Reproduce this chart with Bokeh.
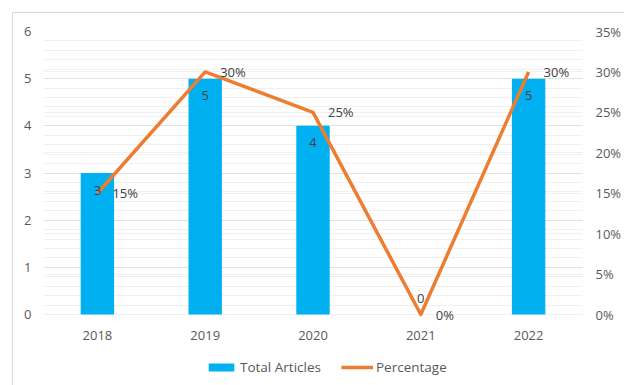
from bokeh.plotting import figure
from bokeh.models import (ColumnDataSource, Range1d, LinearAxis, FixedTicker,
                          PrintfTickFormatter, Legend, LegendItem, Grid, FactorRange,
                          LabelSet)
from bokeh.core.properties import value
from bokeh.layouts import column
from bokeh.embed import file_html
from bokeh.resources import INLINE

years = ["2018", "2019", "2020", "2021", "2022"]
total_articles = [3, 5, 4, 0, 5]
percentages = [15, 30, 25, 0, 30]
left_ticks = [0, 1, 2, 3, 4, 5, 6]
right_ticks = [0, 5, 10, 15, 20, 25, 30, 35]

FONT = "Open Sans"
TXT = "#595959"
LBL = "#404040"
BLUE = "#00B0F0"
ORANGE = "#ED7D31"
GRID = "#e2e2e2"
MINOR = "#f0f0f0"

# frame extends a few pixels below the zero line so that labels at zero are not clipped
LEFT_MAX = 6
RIGHT_MAX = 35
PAD = 8 / 283  # fraction of the 0..max span

src = ColumnDataSource(dict(
    x=years,
    total=total_articles,
    total_lbl=[str(v) for v in total_articles],
    total_off=[-17 if v > 0 else 16 for v in total_articles],
    pct=percentages,
    pct_lbl=[f"{v}%" for v in percentages],
))

p = figure(x_range=FactorRange(*years, range_padding=0),
           y_range=Range1d(-LEFT_MAX * PAD, LEFT_MAX),
           width=624, height=352, output_backend="svg", toolbar_location=None,
           min_border_left=43, min_border_right=39, min_border_top=31, min_border_bottom=30,
           outline_line_color=None, border_fill_color=None)
p.styles = {
    "background": "linear-gradient(#d9d9d9,#d9d9d9) 12px 12px / 100% 1px no-repeat, "
                  "linear-gradient(#d9d9d9,#d9d9d9) 12px 12px / 1px 100% no-repeat, #ffffff"
}
p.extra_y_ranges = {"pct": Range1d(-RIGHT_MAX * PAD, RIGHT_MAX)}

# grids
p.xgrid.grid_line_color = None
p.ygrid.ticker = FixedTicker(ticks=left_ticks, minor_ticks=[i / 5 for i in range(31)])
p.ygrid.grid_line_color = GRID
p.ygrid.minor_grid_line_color = MINOR
rgrid = Grid(dimension=1, y_range_name="pct", ticker=FixedTicker(ticks=right_ticks),
             grid_line_color=MINOR)
p.add_layout(rgrid)

bars = p.vbar(x="x", top="total", width=0.31, source=src, fill_color=BLUE, line_color=None)
line = p.line(x="x", y="pct", source=src, y_range_name="pct", line_color=ORANGE,
              line_width=3.5, line_join="round")

p.add_layout(LabelSet(x="x", y="total", text="total_lbl", source=src, y_offset="total_off",
                      text_align="center", text_baseline="middle", text_font=value(FONT),
                      text_font_size="13px", text_color=LBL))
p.add_layout(LabelSet(x="x", y="pct", text="pct_lbl", source=src, y_range_name="pct",
                      x_offset=15, y_offset=0, text_align="left", text_baseline="middle",
                      text_font=value(FONT), text_font_size="13px", text_color=LBL))

# axes
p.yaxis.ticker = FixedTicker(ticks=left_ticks)
raxis = LinearAxis(y_range_name="pct", ticker=FixedTicker(ticks=right_ticks),
                   formatter=PrintfTickFormatter(format="%d%%"))
p.add_layout(raxis, "right")
for ax in [p.yaxis[0], raxis, p.xaxis[0]]:
    ax.axis_line_color = None
    ax.major_tick_line_color = None
    ax.minor_tick_line_color = None
    ax.major_tick_in = 0
    ax.major_tick_out = 0
    ax.minor_tick_in = 0
    ax.minor_tick_out = 0
    ax.major_label_text_font = FONT
    ax.major_label_text_font_size = "13px"
    ax.major_label_text_color = TXT
p.yaxis[0].major_label_standoff = 12
raxis.major_label_standoff = 13
p.xaxis.major_label_standoff = 8

# legend strip below the chart (swatch renderers sit outside the visible range)
lg = figure(x_range=Range1d(0, 1), y_range=Range1d(0, 1), width=624, height=33,
            output_backend="svg", toolbar_location=None,
            x_axis_location=None, y_axis_location=None,
            min_border_left=0, min_border_right=0, min_border_top=0, min_border_bottom=0,
            outline_line_color=None, border_fill_color=None)
lg.styles = {
    "background": "linear-gradient(#d9d9d9,#d9d9d9) 12px 0px / 1px 100% no-repeat, #ffffff"
}
lg.grid.visible = False
lbar = lg.vbar(x=[5], top=[5], bottom=[4], width=0.3, fill_color=BLUE, line_color=None)
lline = lg.line(x=[5, 6], y=[5, 5], line_color=ORANGE, line_width=3.5)
legend = Legend(items=[LegendItem(label="Total Articles", renderers=[lbar]),
                       LegendItem(label="Percentage", renderers=[lline])],
                orientation="horizontal", location=(162, 9),
                glyph_width=32, glyph_height=10, label_text_font=FONT,
                label_text_font_size="13.5px", label_text_color=TXT,
                label_standoff=3, spacing=20, border_line_color=None,
                background_fill_alpha=0, padding=4, margin=0)
lg.add_layout(legend, "center")

page = column(p, lg, spacing=0)
open("out.html", "w").write(file_html(page, INLINE))
